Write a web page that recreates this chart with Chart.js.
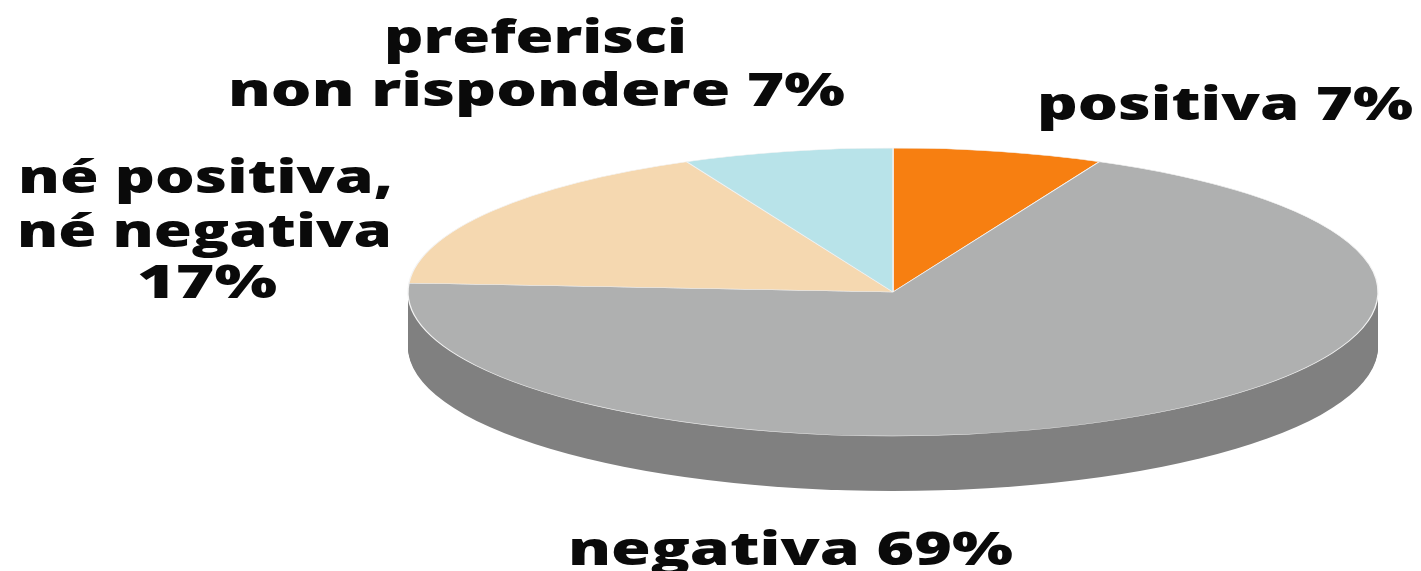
<!DOCTYPE html>
<html><head><meta charset="utf-8">
<style>html,body{margin:0;padding:0;background:#fff}#wrap{position:absolute;left:0;top:0;width:1421px;height:571px}canvas{display:block;filter:blur(0.7px)}</style>
<script src="https://cdn.jsdelivr.net/npm/chart.js@4"></script>
</head><body><div id="wrap"><canvas id="c" width="1421" height="571"></canvas></div>
<script>
const categories = ['positiva', 'negativa', 'né positiva, né negativa', 'preferisci non rispondere'];
const percentages = [7, 69, 17, 7];
const sliceColors = ['#f77f11', '#afb0b0', '#f5d8b0', '#b8e3e9'];
const sideColor = '#808080';
const labelLines = [['preferisci','non rispondere 7%'],['positiva 7%'],['né positiva,','né negativa','17%'],['negativa 69%']];

const CX = 893, CY = 292, RX = 485, RY = 144, DEPTH = 55;
function squash(ctx, arc, dy) {
  ctx.translate(CX, CY + dy);
  ctx.scale(RX / arc.outerRadius, RY / arc.outerRadius);
  ctx.translate(-arc.x, -arc.y);
}
const labelPlaces = [
  [{l:384, r:687, y:53}, {l:228, r:845, y:106}],
  [{l:1037, r:1413, y:120}],
  [{l:18, r:393, y:193}, {l:17, r:392, y:247}, {l:137, r:277, y:298}],
  [{l:568, r:1013, y:565}]
];
const pie3d = {
  id: 'pie3d',
  beforeDatasetsDraw(chart) {
    const ctx = chart.ctx;
    const arc = chart.getDatasetMeta(0).data[0];
    ctx.fillStyle = sideColor;
    for (let dy = DEPTH; dy >= 1; dy -= 1) {
      ctx.save();
      squash(ctx, arc, dy);
      ctx.beginPath();
      ctx.arc(arc.x, arc.y, arc.outerRadius, 0, Math.PI * 2);
      ctx.fill();
      ctx.restore();
    }
    ctx.save();
    squash(ctx, arc, 0);
  },
  afterDatasetsDraw(chart) {
    const ctx = chart.ctx;
    ctx.restore();
    ctx.save();
    ctx.fillStyle = '#0a0a0a';
    ctx.font = '800 46px "Open Sans"';
    ctx.textAlign = 'left';
    ctx.textBaseline = 'alphabetic';
    labelLines.forEach((lines, i) => {
      lines.forEach((t, j) => {
        const p = labelPlaces[i][j];
        const w = ctx.measureText(t).width;
        ctx.save();
        ctx.translate(p.l, p.y);
        ctx.scale((p.r - p.l) / w, 1);
        ctx.fillText(t, 0, 0);
        ctx.restore();
      });
    });
    ctx.restore();
  }
};
new Chart(document.getElementById('c'), {
  type: 'pie',
  data: { labels: categories, datasets: [{ data: percentages, backgroundColor: sliceColors, borderColor: '#f4f4f4', borderWidth: 0.8 }] },
  options: {
    responsive: false, animation: false,
    plugins: { legend: { display: false }, tooltip: { enabled: false } }
  },
  plugins: [pie3d]
});
</script></body></html>
